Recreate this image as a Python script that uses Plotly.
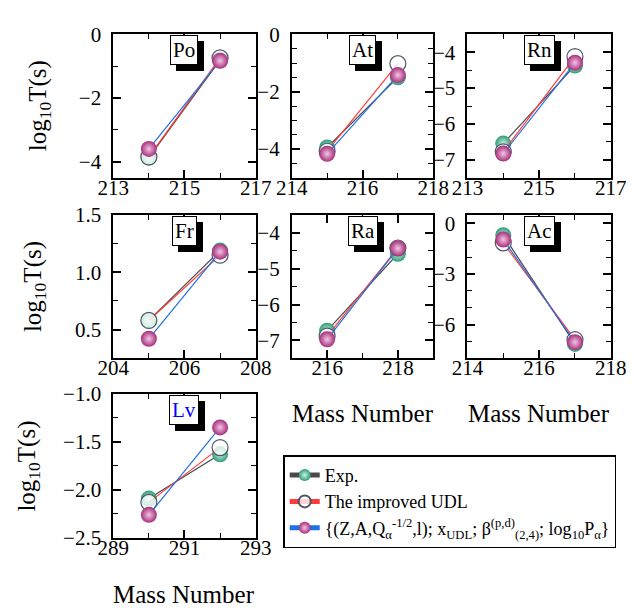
import plotly.graph_objects as go

FONT = "Times New Roman, Liberation Serif, DejaVu Serif, serif"

# ---------------- data ----------------
elements = ["Po", "At", "Rn", "Fr", "Ra", "Ac", "Lv"]

po_A = [214, 216]
po_exp = [-3.87, -0.80]
po_udl = [-3.85, -0.74]
po_new = [-3.60, -0.83]

at_A = [215, 217]
at_exp = [-3.95, -1.50]
at_udl = [-4.08, -1.02]
at_new = [-4.17, -1.42]

rn_A = [214, 216]
rn_exp = [-6.55, -4.37]
rn_udl = [-6.78, -4.12]
rn_new = [-6.83, -4.29]

fr_A = [205, 207]
fr_exp = [0.58, 1.19]
fr_udl = [0.58, 1.15]
fr_new = [0.42, 1.18]

ra_A = [216, 218]
ra_exp = [-6.73, -4.58]
ra_udl = [-6.88, -4.42]
ra_new = [-6.97, -4.43]

ac_A = [215, 217]
ac_exp = [-0.70, -7.15]
ac_udl = [-1.15, -6.90]
ac_new = [-0.95, -7.05]

lv_A = [290, 292]
lv_exp = [-2.09, -1.63]
lv_udl = [-2.13, -1.56]
lv_new = [-2.26, -1.35]

series_names = ["Exp.", "The improved UDL",
                "{(Z,A,Q<sub>α</sub><sup>-1/2</sup>,l); x<sub>UDL</sub>; "
                "β<sup>(p,d)</sup><sub>(2,4)</sub>; log<sub>10</sub>P<sub>α</sub>}"]

data = {
    "Po": (po_A, po_exp, po_udl, po_new),
    "At": (at_A, at_exp, at_udl, at_new),
    "Rn": (rn_A, rn_exp, rn_udl, rn_new),
    "Fr": (fr_A, fr_exp, fr_udl, fr_new),
    "Ra": (ra_A, ra_exp, ra_udl, ra_new),
    "Ac": (ac_A, ac_exp, ac_udl, ac_new),
    "Lv": (lv_A, lv_exp, lv_udl, lv_new),
}

# ---------------- axis settings ----------------
# name: (xrange, xtick0, yrange, ytick0, ydtick, yminor, ytickformat)
axes_cfg = {
    "Po": ([213, 217], 213, [-4.5, 0], 0, 2, 1, ""),
    "At": ([214, 218], 214, [-5, 0], 0, 2, 0.5, ""),
    "Rn": ([213, 217], 213, [-7.5, -3.5], -4, 1, 0.5, ""),
    "Fr": ([204, 208], 204, [0.25, 1.5], 0.5, 0.5, 0.25, ".1f"),
    "Ra": ([215, 219], 216, [-7.5, -3.5], -4, 1, 0.5, ""),
    "Ac": ([214, 218], 214, [-8, 0.5], 0, 3, 1, ""),
    "Lv": ([289, 293], 289, [-2.5, -1.0], -1.0, 0.5, 0.25, ".1f"),
}

W, H = 634, 614


def px(v):
    return v / W


def py(v):
    return 1 - v / H


colx = [(94, 244), (282, 431), (467, 618)]
rowy = [(15, 164), (203, 352), (389, 539)]
pos = {"Po": (0, 0), "At": (0, 1), "Rn": (0, 2),
       "Fr": (1, 0), "Ra": (1, 1), "Ac": (1, 2), "Lv": (2, 0)}

colors = {"exp": "#2f9c78", "new": "#a52f7c"}
line_cols = ["#4a4a4a", "#ff3b3b", "#1f6fe5"]

fig = go.Figure()
layout = {}
annotations = []

for i, name in enumerate(elements):
    r, c = pos[name]
    idx = i + 1
    xa = "x" if idx == 1 else f"x{idx}"
    ya = "y" if idx == 1 else f"y{idx}"
    A, e, u, n = data[name]
    show = (i == 0)
    fig.add_trace(go.Scatter(
        x=A, y=e, mode="lines+markers", name=series_names[0], showlegend=show,
        legendrank=1,
        line=dict(color=line_cols[0], width=1.2),
        marker=dict(size=16, color=colors["exp"], line=dict(width=0),
                    gradient=dict(type="radial", color="#c8f0e0")),
        xaxis=xa, yaxis=ya))
    fig.add_trace(go.Scatter(
        x=A, y=u, mode="lines+markers", name=series_names[1], showlegend=show,
        legendrank=2,
        line=dict(color=line_cols[1], width=1.2),
        marker=dict(size=16, color="rgba(255,255,255,0.78)",
                    line=dict(width=1.2, color="#4a5866")),
        xaxis=xa, yaxis=ya))
    fig.add_trace(go.Scatter(
        x=A, y=n, mode="lines+markers", name=series_names[2], showlegend=show,
        legendrank=3,
        line=dict(color=line_cols[2], width=1.2),
        marker=dict(size=16, color=colors["new"], line=dict(width=0),
                    gradient=dict(type="radial", color="#f4c4e2")),
        xaxis=xa, yaxis=ya))

    xr, xt0, yr, yt0, ydt, ymin, yfmt = axes_cfg[name]
    x0, x1 = colx[c]
    y0, y1 = rowy[r]
    xdom = [px(x0), px(x1)]
    ydom = [py(y1), py(y0)]
    common = dict(showline=True, linecolor="black", linewidth=1.8,
                  mirror="allticks", ticks="inside", ticklen=8, tickwidth=1.5,
                  tickcolor="black", showgrid=False, zeroline=False,
                  tickfont=dict(family=FONT, size=21, color="black"))
    layout["xaxis" if idx == 1 else f"xaxis{idx}"] = dict(
        common, domain=xdom, range=xr, tick0=xt0, dtick=2,
        anchor=ya, ticklabelstandoff=-10,
        minor=dict(ticks="inside", dtick=1, ticklen=5, tickwidth=1.3,
                   tickcolor="black", showgrid=False))
    layout["yaxis" if idx == 1 else f"yaxis{idx}"] = dict(
        common, domain=ydom, range=yr, tick0=yt0, dtick=ydt,
        tickformat=yfmt, anchor=xa, ticklabelstandoff=6,
        minor=dict(ticks="inside", dtick=ymin, ticklen=5, tickwidth=1.3,
                   tickcolor="black", showgrid=False))

    cx = (xdom[0] + xdom[1]) / 2
    label_col = "#0000ff" if name == "Lv" else "black"
    # shadow
    annotations.append(dict(
        xref="paper", yref="paper", x=cx, y=ydom[1], xanchor="center",
        yanchor="top", yshift=-7, xshift=6, showarrow=False, text=name,
        font=dict(family=FONT, size=21, color="black"),
        bgcolor="black", bordercolor="black", borderwidth=1, borderpad=2))
    annotations.append(dict(
        xref="paper", yref="paper", x=cx, y=ydom[1], xanchor="center",
        yanchor="top", yshift=-1, showarrow=False, text=name,
        font=dict(family=FONT, size=21, color=label_col),
        bgcolor="white", bordercolor="black", borderwidth=1, borderpad=2))

# y-axis titles
for name, xpx in (("Po", 16), ("Fr", 11), ("Lv", 5)):
    r, c = pos[name]
    y0, y1 = rowy[r]
    annotations.append(dict(
        xref="paper", yref="paper", x=px(xpx), y=py((y0 + y1) / 2),
        xanchor="center", yanchor="middle", textangle=-90, showarrow=False,
        text="log<sub>10</sub>T(s)",
        font=dict(family=FONT, size=25, color="black")))

# x-axis titles
for name, ypx in (("Lv", 598), ("Ra", 410), ("Ac", 410)):
    r, c = pos[name]
    x0, x1 = colx[c]
    annotations.append(dict(
        xref="paper", yref="paper", x=px((x0 + x1) / 2), y=py(ypx),
        xanchor="center", yanchor="middle", showarrow=False,
        text="Mass Number",
        font=dict(family=FONT, size=25, color="black")))

fig.update_layout(
    width=W, height=H,
    margin=dict(l=0, r=0, t=0, b=0),
    paper_bgcolor="white", plot_bgcolor="white",
    font=dict(family=FONT, color="black"),
    annotations=annotations,
    showlegend=True,
    legend=dict(x=px(273), y=py(453), xanchor="left", yanchor="top",
                bgcolor="white", bordercolor="black", borderwidth=1.5,
                font=dict(family=FONT, size=18, color="black"),
                itemsizing="constant", tracegroupgap=0,
                traceorder="normal"),
    **layout,
)

fig.write_html("out.html")
